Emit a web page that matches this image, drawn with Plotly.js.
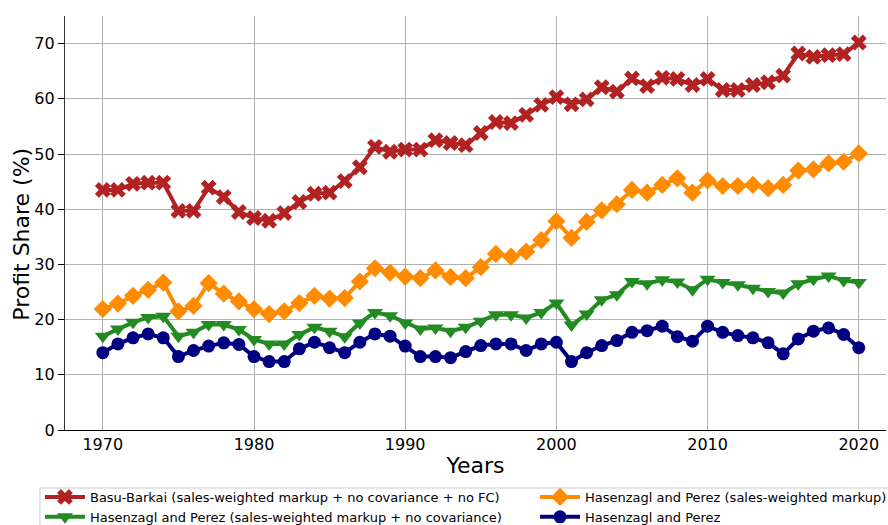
<!DOCTYPE html>
<html>
<head>
<meta charset="utf-8">
<script src="https://cdn.plot.ly/plotly-3.0.1.min.js"></script>
<style>html,body{margin:0;padding:0;background:#fff;}#chart{width:888px;height:525px;}</style>
</head>
<body>
<div id="chart"></div>
<script>
const years = [];
for (let y = 1970; y <= 2020; y++) years.push(y);

const seriesNames = [
  "Basu-Barkai (sales-weighted markup + no covariance + no FC)",
  "Hasenzagl and Perez (sales-weighted markup + no covariance)",
  "Hasenzagl and Perez (sales-weighted markup)",
  "Hasenzagl and Perez"
];

const basuBarkai = [43.5,43.5,44.6,44.8,44.8,39.7,39.7,43.9,42.2,39.5,
  38.4,37.9,39.3,41.3,42.8,43.0,45.1,47.6,51.3,50.4,
  50.8,50.8,52.5,52.0,51.6,53.8,55.8,55.6,57.1,58.9,
  60.3,59.0,59.9,62.1,61.3,63.7,62.3,63.8,63.6,62.5,
  63.6,61.6,61.6,62.5,63.0,64.2,68.2,67.6,67.9,68.1,70.2];

const hpNoCovariance = [17.0,18.3,19.5,20.4,20.6,17.0,17.7,19.1,19.1,18.2,
  16.4,15.6,15.6,17.3,18.6,17.9,16.9,19.4,21.3,20.7,
  19.4,18.3,18.5,17.9,18.6,19.7,20.9,20.9,20.3,21.3,
  23.0,19.0,21.0,23.6,24.5,26.9,26.5,27.2,26.8,25.4,
  27.3,26.7,26.3,25.7,25.1,24.8,26.5,27.3,27.9,27.1,26.7];

const hpSalesWeighted = [21.9,22.9,24.3,25.4,26.7,21.5,22.5,26.6,24.7,23.3,
  21.9,21.0,21.5,23.0,24.3,23.8,23.9,26.9,29.3,28.5,
  27.8,27.5,28.9,27.7,27.5,29.5,31.9,31.4,32.3,34.4,
  37.8,34.8,37.7,39.8,40.9,43.5,43.0,44.4,45.6,43.0,
  45.2,44.2,44.2,44.4,43.8,44.4,47.0,47.2,48.3,48.6,50.1];

const hpBase = [14.0,15.6,16.7,17.4,16.7,13.3,14.4,15.2,15.8,15.5,
  13.3,12.4,12.4,14.7,15.9,14.9,14.0,15.9,17.4,17.0,
  15.2,13.3,13.3,13.1,14.2,15.3,15.6,15.6,14.4,15.6,
  15.9,12.4,14.0,15.3,16.2,17.7,18.0,18.8,16.9,16.1,
  18.8,17.7,17.1,16.7,15.8,13.8,16.5,17.9,18.5,17.3,14.9];

const xTicks = [1970,1980,1990,2000,2010,2020];
const yTicks = [0,10,20,30,40,50,60,70];
const yTitle = "Profit Share (%)";
const xTitle = "Years";

const colors = ["#b22222","#228b22","#ff8c00","#000080"];
const symbols = ["x","triangle-down","diamond","circle"];
const sizes = [14,14,14,13];
const legendIds = ["legend","legend","legend2","legend2"];
const data = [basuBarkai, hpNoCovariance, hpSalesWeighted, hpBase];

const traces = data.map((vals, i) => ({
  x: years, y: vals, type: "scatter", mode: "lines+markers",
  name: seriesNames[i], legend: legendIds[i],
  line: {color: colors[i], width: 4},
  marker: {color: colors[i], symbol: symbols[i], size: sizes[i], line: {width: 0}}
}));

const font = "DejaVu Sans, sans-serif";
const legendBase = {
  orientation: "v", xanchor: "left", yanchor: "top",
  borderwidth: 0, bgcolor: "rgba(0,0,0,0)",
  font: {size: 13, family: font}, tracegroupgap: 0, itemwidth: 40
};
const layout = {
  width: 888, height: 525,
  margin: {l: 65, r: 2, t: 16, b: 95, autoexpand: false},
  paper_bgcolor: "#fff", plot_bgcolor: "#fff",
  font: {family: font, color: "#000", size: 16},
  showlegend: true,
  xaxis: {
    range: [1967.5, 2021.8], tickvals: xTicks, ticktext: xTicks.map(String),
    showgrid: true, gridcolor: "#b0b0b0", gridwidth: 1,
    zeroline: false, showline: true, linecolor: "#000", linewidth: 1.2,
    ticks: "", ticklen: 0,
    tickfont: {size: 16, family: font},
    title: {text: xTitle, font: {size: 22, family: font}, standoff: 4}
  },
  yaxis: {
    range: [0, 75], tickvals: yTicks,
    showgrid: true, gridcolor: "#b0b0b0", gridwidth: 1,
    zeroline: false, showline: true, linecolor: "#333", linewidth: 1.2,
    ticks: "outside", ticklen: 6, tickcolor: "#000",
    tickfont: {size: 16, family: font}
  },
  annotations: [{
    text: yTitle, xref: "paper", yref: "paper", x: -0.0524, y: 0.474,
    xanchor: "center", yanchor: "middle", textangle: -90, showarrow: false,
    font: {size: 22, family: font, color: "#000"}
  }],
  legend: Object.assign({}, legendBase, {x: -0.0305, y: -0.1256}),
  legend2: Object.assign({}, legendBase, {x: 0.5725, y: -0.1256}),
  shapes: [{
    type: "rect", xref: "paper", yref: "paper",
    x0: -0.0305, x1: 1.02, y0: -0.26, y1: -0.1401,
    line: {color: "#cccccc", width: 1}, fillcolor: "rgba(0,0,0,0)", layer: "below"
  }]
};

Plotly.newPlot("chart", traces, layout, {displayModeBar: false, staticPlot: true});
</script>
</body>
</html>
